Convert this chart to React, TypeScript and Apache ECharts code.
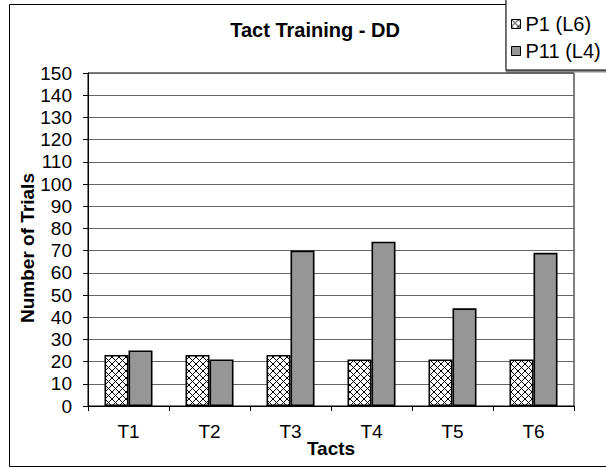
import React, { useEffect, useRef } from "react";
import * as echarts from "echarts";

// Tact training trials per tact for the two participants
const categories = ["T1", "T2", "T3", "T4", "T5", "T6"];
const seriesNames = ["P1 (L6)", "P11 (L4)"];
const p1Trials = [23, 23, 23, 21, 21, 21];
const p11Trials = [25, 21, 70, 74, 44, 69];
const yMin = 0;
const yMax = 150;
const yStep = 10;

const chartTitle = "Tact Training - DD";
const xAxisTitle = "Tacts";
const yAxisTitle = "Number of Trials";

const FONT = "'Liberation Sans', Arial, sans-serif";

// Cross-hatched tile used as the fill of the first series
function hatchTile(size: number): string {
  const c = document.createElement("canvas");
  c.width = size;
  c.height = size;
  const ctx = c.getContext("2d")!;
  ctx.fillStyle = "#ffffff";
  ctx.fillRect(0, 0, size, size);
  ctx.strokeStyle = "#000000";
  ctx.lineWidth = 1;
  ctx.beginPath();
  ctx.moveTo(-1, -1);
  ctx.lineTo(size + 1, size + 1);
  ctx.moveTo(-1, size + 1);
  ctx.lineTo(size + 1, -1);
  ctx.stroke();
  return c.toDataURL();
}

export default function App() {
  const ref = useRef<HTMLDivElement>(null);

  useEffect(() => {
    if (!ref.current) return;
    const chart = echarts.init(ref.current, undefined, { renderer: "svg" });
    const tile = 7;
    const hatch = {
      image: hatchTile(tile),
      repeat: "repeat",
      imageWidth: tile,
      imageHeight: tile,
    };

    chart.setOption({
      animation: false,
      backgroundColor: "#ffffff",
      textStyle: { fontFamily: FONT },
      grid: {
        left: 88,
        top: 73,
        width: 486,
        height: 333,
        show: true,
        borderColor: "#000000",
        borderWidth: 1,
        backgroundColor: "transparent",
      },
      legend: {
        orient: "vertical",
        left: 506,
        top: -2,
        z: 10,
        icon: "rect",
        itemWidth: 9,
        itemHeight: 9,
        itemGap: 7,
        padding: [16, 8, 9, 5],
        backgroundColor: "#ffffff",
        borderColor: "#000000",
        borderWidth: 1,
        shadowColor: "rgba(0,0,0,0.45)",
        shadowOffsetX: 0,
        shadowOffsetY: 2,
        shadowBlur: 0,
        itemStyle: { borderColor: "#000000", borderWidth: 1 },
        textStyle: { fontFamily: FONT, fontSize: 20, color: "#000000" },
        data: seriesNames,
      },
      xAxis: {
        type: "category",
        data: categories,
        axisLine: { show: true, lineStyle: { color: "#000000", width: 1 } },
        axisTick: {
          show: true,
          alignWithLabel: false,
          length: 5,
          lineStyle: { color: "#000000" },
        },
        axisLabel: {
          margin: 16,
          fontFamily: FONT,
          fontSize: 19,
          color: "#000000",
        },
        splitLine: { show: false },
      },
      yAxis: {
        type: "value",
        min: yMin,
        max: yMax,
        interval: yStep,
        axisLine: { show: true, lineStyle: { color: "#000000", width: 1 } },
        axisTick: { show: true, length: 5, lineStyle: { color: "#000000" } },
        axisLabel: {
          margin: 16,
          fontFamily: FONT,
          fontSize: 19,
          color: "#000000",
        },
        splitLine: { show: true, lineStyle: { color: "#666666", width: 1 } },
      },
      series: [
        {
          name: seriesNames[0],
          type: "bar",
          data: p1Trials,
          barWidth: 24,
          barGap: "0%",
          itemStyle: { color: hatch, borderColor: "#000000", borderWidth: 1.6 },
        },
        {
          name: seriesNames[1],
          type: "bar",
          data: p11Trials,
          barWidth: 24,
          barGap: "0%",
          itemStyle: { color: "#969696", borderColor: "#000000", borderWidth: 1.6 },
        },
      ],
      graphic: [
        {
          type: "rect",
          z: -1,
          silent: true,
          shape: { x: 9.5, y: 4.5, width: 700, height: 462 },
          style: { fill: "none", stroke: "#000000", lineWidth: 1 },
        },
        {
          type: "text",
          x: 315,
          y: 30,
          style: {
            text: chartTitle,
            fontFamily: FONT,
            fontSize: 20,
            fontWeight: "bold",
            fill: "#000000",
            align: "center",
            verticalAlign: "middle",
          },
        },
        {
          type: "text",
          x: 331,
          y: 448,
          style: {
            text: xAxisTitle,
            fontFamily: FONT,
            fontSize: 19,
            fontWeight: "bold",
            fill: "#000000",
            align: "center",
            verticalAlign: "middle",
          },
        },
        {
          type: "text",
          x: 27,
          y: 248,
          rotation: Math.PI / 2,
          style: {
            text: yAxisTitle,
            fontFamily: FONT,
            fontSize: 19,
            fontWeight: "bold",
            fill: "#000000",
            align: "center",
            verticalAlign: "middle",
          },
        },
      ],
    });

    return () => chart.dispose();
  }, []);

  return (
    <div
      ref={ref}
      style={{ position: "absolute", left: 0, top: 0, width: 606, height: 468 }}
    />
  );
}
